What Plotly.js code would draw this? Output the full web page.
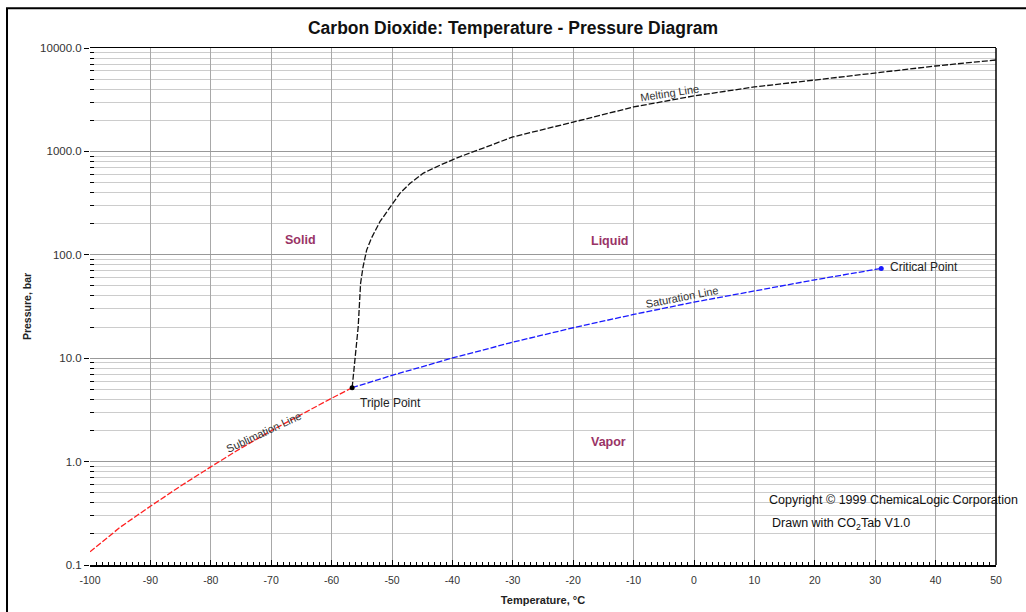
<!DOCTYPE html>
<html>
<head>
<meta charset="utf-8">
<script src="https://cdn.plot.ly/plotly-3.0.1.min.js"></script>
<style>html,body{margin:0;padding:0;background:#fff;}#chart{width:1026px;height:612px;}</style>
</head>
<body>
<div id="chart"></div>
<script>
// Sublimation line (solid-vapor)
const subT = [-100, -95, -90, -85, -80, -78.5, -75, -70, -65, -60, -56.6];
const subP = [0.134, 0.232, 0.37, 0.58, 0.89, 1.013, 1.35, 1.99, 2.87, 4.10, 5.18];
// Saturation line (liquid-vapor)
const satT = [-56.6, -50, -40, -30, -20, -10, 0, 10, 20, 30, 31.0];
const satP = [5.18, 6.82, 10.05, 14.28, 19.70, 26.49, 34.85, 45.02, 57.29, 72.14, 73.8];
// Melting line (solid-liquid)
const meltT = [-56.6, -55.6, -55.2, -54.8, -54.2, -53.4, -52.0, -50.3, -48.7, -47.0, -44.8, -42.0, -38.7, -35, -30, -20, -10, 0, 10, 20, 30, 40, 50];
const meltP = [5.18, 20, 53, 76, 111, 145, 209, 292, 393, 491, 617, 738, 891, 1070, 1380, 1920, 2690, 3440, 4200, 4900, 5730, 6700, 7660];
// Special points
const tripleT = [-56.6], tripleP = [5.18];
const critT = [31.0], critP = [73.8];
// Axis ticks
const xTickVals = [-100, -90, -80, -70, -60, -50, -40, -30, -20, -10, 0, 10, 20, 30, 40, 50];
const xTickText = ['-100', '-90', '-80', '-70', '-60', '-50', '-40', '-30', '-20', '-10', '0', '10', '20', '30', '40', '50'];
const yTickVals = [0.1, 1, 10, 100, 1000, 10000];
const yTickText = ['0.1', '1.0', '10.0', '100.0', '1000.0', '10000.0'];

const minorY = [];
for (let d = -1; d < 4; d++) for (let m = 2; m <= 9; m++) minorY.push(m * Math.pow(10, d));

const FONT = 'Liberation Sans, Arial, sans-serif';
const lineStyle = {width: 1.3, dash: '6px,2px'};

const traces = [
  {x: subT, y: subP, mode: 'lines', line: Object.assign({color: '#ff2020'}, lineStyle), hoverinfo: 'skip'},
  {x: satT, y: satP, mode: 'lines', line: Object.assign({color: '#1a1aff'}, lineStyle), hoverinfo: 'skip'},
  {x: meltT, y: meltP, mode: 'lines', line: Object.assign({color: '#111'}, lineStyle), hoverinfo: 'skip'},
  {x: tripleT, y: tripleP, mode: 'markers', marker: {color: '#000', size: 5}, hoverinfo: 'skip'},
  {x: critT, y: critP, mode: 'markers', marker: {color: '#1a1aff', size: 5}, hoverinfo: 'skip'}
];

const regionColor = '#993366';
const ann = (x, y, text, opts) => Object.assign({x: x, y: y, xref: 'x', yref: 'y', text: text, showarrow: false,
  font: {family: FONT, size: 12, color: '#222'}}, opts || {});
const lineLbl = {family: FONT, size: 11, color: '#333'};
const regionLbl = {family: FONT, size: 12.5, color: regionColor};

const layout = {
  width: 1026, height: 612,
  margin: {l: 90, r: 30, t: 48, b: 47},
  paper_bgcolor: '#fff', plot_bgcolor: '#fff',
  showlegend: false,
  font: {family: FONT, size: 11, color: '#333'},
  title: {text: '<b>Carbon Dioxide: Temperature - Pressure Diagram</b>',
    font: {family: FONT, size: 17.5, color: '#111'}, x: 0.5, xanchor: 'center', y: 1 - 28 / 612, yanchor: 'middle'},
  xaxis: {
    range: [-100, 50], zeroline: false,
    tickmode: 'array', tickvals: xTickVals, ticktext: xTickText,
    showgrid: true, gridcolor: '#a8a8a8', gridwidth: 1,
    showline: true, linecolor: '#000', linewidth: 1.5, mirror: true,
    ticks: 'inside', ticklen: 5, tickcolor: '#000',
    minor: {tickmode: 'linear', tick0: 0, dtick: 1, ticks: 'inside', ticklen: 3, tickcolor: '#000', showgrid: false},
    tickfont: {family: FONT, size: 10.5, color: '#333'},
    ticklabelstandoff: 5,
    title: {text: '<b>Temperature, °C</b>', font: {family: FONT, size: 11, color: '#222'}, standoff: 11}
  },
  yaxis: {
    type: 'log', range: [-1, 4], zeroline: false,
    tickmode: 'array', tickvals: yTickVals, ticktext: yTickText,
    showgrid: true, gridcolor: '#999', gridwidth: 1,
    showline: false,
    ticks: 'outside', ticklen: 5, tickcolor: '#000',
    minor: {tickmode: 'array', tickvals: minorY, ticks: 'inside', ticklen: 4, tickcolor: '#000',
      showgrid: true, gridcolor: '#cccccc', gridwidth: 1},
    tickfont: {family: FONT, size: 11.5, color: '#333'},
    title: {text: '<b>Pressure, bar</b>', font: {family: FONT, size: 10.5, color: '#222'}, standoff: 6}
  },
  shapes: [
    {type: 'line', xref: 'paper', yref: 'paper', x0: 1, x1: 1, y0: 0, y1: 1, line: {color: '#000', width: 1.5}},
    {type: 'rect', xref: 'paper', yref: 'paper', x0: -0.0916, x1: 1.2, y0: -0.3, y1: 1.077, line: {color: '#000', width: 2}}
  ],
  annotations: [
    ann(-4.1, 3.565, 'Melting Line', {textangle: -9, font: lineLbl}),
    ann(-2.0, 1.592, 'Saturation Line', {textangle: -11, font: lineLbl}),
    ann(-71.2, 0.286, 'Sublimation Line', {textangle: -25, font: lineLbl}),
    ann(-55.6, 0.567, 'Triple Point', {xanchor: 'left'}),
    ann(32.1, 1.882, 'Critical Point', {xanchor: 'left'}),
    ann(-65.1, 2.143, '<b>Solid</b>', {font: regionLbl}),
    ann(-13.9, 2.133, '<b>Liquid</b>', {font: regionLbl}),
    ann(-14.1, 0.19, '<b>Vapor</b>', {font: regionLbl}),
    ann(12.1, -0.371, 'Copyright © 1999 ChemicaLogic Corporation', {xanchor: 'left', font: {family: FONT, size: 12.5, color: '#111'}}),
    ann(12.6, -0.603, 'Drawn with CO<sub>2</sub>Tab V1.0', {xanchor: 'left', font: {family: FONT, size: 12.5, color: '#111'}})
  ]
};

Plotly.newPlot('chart', traces, layout, {displayModeBar: false, staticPlot: true});
</script>
</body>
</html>
